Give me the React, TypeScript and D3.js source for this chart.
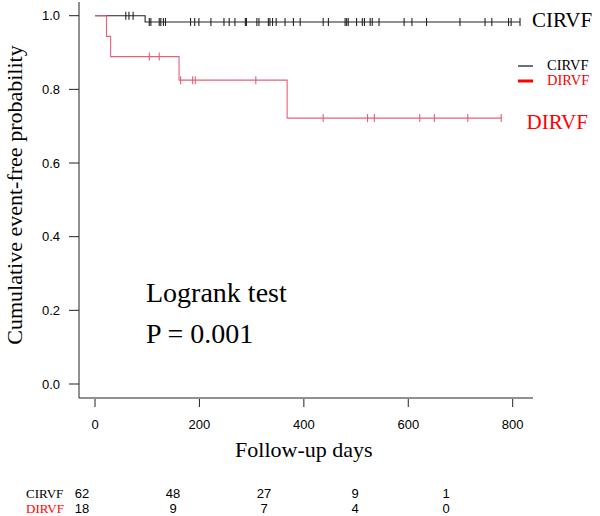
import React, { useRef, useEffect } from 'react';
import * as d3 from 'd3';

// Kaplan-Meier step values (day, survival) for each group
const cirvfSteps = [
  { t: 0, s: 1.0 },
  { t: 96, s: 0.983 },
];
const cirvfEnd = 814;
const cirvfCensored = [
  59, 65, 73, 104, 107, 123, 126, 131, 135, 183, 191, 199, 222, 247, 257, 268,
  288, 290, 310, 314, 332, 335, 340, 347, 364, 380, 393, 437, 447, 479, 482,
  485, 501, 512, 516, 527, 531, 544, 592, 607, 635, 699, 747, 760, 792, 797, 814,
];

const dirvfSteps = [
  { t: 0, s: 1.0 },
  { t: 22, s: 0.944 },
  { t: 30, s: 0.889 },
  { t: 161, s: 0.825 },
  { t: 368, s: 0.722 },
];
const dirvfEnd = 778;
const dirvfCensored = [104, 123, 164, 187, 192, 308, 437, 522, 535, 622, 650, 714, 778];

const xTicks = [0, 200, 400, 600, 800];
const yTicks = [0, 0.2, 0.4, 0.6, 0.8, 1.0];

// number at risk table
const riskDays = [0, 200, 400, 600, 800];
const cirvfAtRisk = [62, 48, 27, 9, 1];
const dirvfAtRisk = [18, 9, 7, 4, 0];

const SERIF = '"Liberation Serif", "Times New Roman", serif';
const SANS = '"Liberation Sans", Arial, sans-serif';
const RED_LINE = '#e4607a';

const KMChart = () => {
  const svgRef = useRef(null);

  useEffect(() => {
    const width = 600;
    const height = 516;

    const svg = d3.select(svgRef.current)
      .attr('width', width)
      .attr('height', height);

    svg.selectAll('*').remove();

    const x = d3.scaleLinear().domain([0, 800]).range([95, 512.7]);
    const y = d3.scaleLinear().domain([0, 1]).range([384, 15.7]);

    const plotLeft = 79;
    const plotRight = 533;
    const plotTop = 2;
    const plotBottom = 398;

    // L-shaped box
    svg.append('path')
      .attr('d', `M${plotLeft},${plotTop}V${plotBottom}H${plotRight}`)
      .attr('fill', 'none')
      .attr('stroke', '#222')
      .attr('stroke-width', 1);

    // y axis ticks + labels
    yTicks.forEach(v => {
      svg.append('line')
        .attr('x1', plotLeft - 10).attr('x2', plotLeft)
        .attr('y1', y(v)).attr('y2', y(v))
        .attr('stroke', '#222');
      svg.append('text')
        .attr('x', 60)
        .attr('y', y(v) + 4.7)
        .attr('text-anchor', 'end')
        .attr('font-family', SANS)
        .attr('font-size', 13)
        .text(v.toFixed(1));
    });

    // x axis ticks + labels
    xTicks.forEach(v => {
      svg.append('line')
        .attr('x1', x(v)).attr('x2', x(v))
        .attr('y1', plotBottom + 1).attr('y2', plotBottom + 9)
        .attr('stroke', '#222');
      svg.append('text')
        .attr('x', x(v))
        .attr('y', 429)
        .attr('text-anchor', 'middle')
        .attr('font-family', SANS)
        .attr('font-size', 13)
        .text(v);
    });

    // axis titles
    svg.append('text')
      .attr('x', (x(0) + x(800)) / 2)
      .attr('y', 457)
      .attr('text-anchor', 'middle')
      .attr('font-family', SERIF)
      .attr('font-size', 22)
      .text('Follow-up days');

    svg.append('text')
      .attr('transform', `translate(22, ${(plotTop + plotBottom) / 2 - 5}) rotate(-90)`)
      .attr('text-anchor', 'middle')
      .attr('font-family', SERIF)
      .attr('font-size', 22)
      .text('Cumulative event-free probability');

    const stepAt = (steps, t) => {
      let s = steps[0].s;
      steps.forEach(p => { if (p.t <= t) s = p.s; });
      return s;
    };

    const line = d3.line()
      .x(d => x(d.t))
      .y(d => y(d.s))
      .curve(d3.curveStepAfter);

    const drawCurve = (steps, end, censored, color) => {
      const pts = [...steps, { t: end, s: steps[steps.length - 1].s }];
      svg.append('path')
        .attr('d', line(pts))
        .attr('fill', 'none')
        .attr('stroke', color)
        .attr('stroke-width', 1.1);

      svg.append('g')
        .selectAll('line')
        .data(censored)
        .enter()
        .append('line')
        .attr('x1', d => x(d)).attr('x2', d => x(d))
        .attr('y1', d => y(stepAt(steps, d)) - 4)
        .attr('y2', d => y(stepAt(steps, d)) + 4)
        .attr('stroke', color)
        .attr('stroke-width', 1.1);
    };

    drawCurve(cirvfSteps, cirvfEnd, cirvfCensored, '#222');
    drawCurve(dirvfSteps, dirvfEnd, dirvfCensored, RED_LINE);

    // curve end labels
    svg.append('text')
      .attr('x', 532).attr('y', 27)
      .attr('font-family', SERIF).attr('font-size', 21)
      .attr('fill', '#000')
      .text('CIRVF');
    svg.append('text')
      .attr('x', 526.5).attr('y', 128.5)
      .attr('font-family', SERIF).attr('font-size', 21)
      .attr('fill', '#ff0000')
      .text('DIRVF');

    // legend
    const legend = [
      { name: 'CIRVF', color: '#000', stroke: '#222', w: 1.3, y: 66 },
      { name: 'DIRVF', color: '#ff0000', stroke: '#ff0000', w: 3, y: 81 },
    ];
    legend.forEach(l => {
      svg.append('line')
        .attr('x1', 518).attr('x2', 533)
        .attr('y1', l.y).attr('y2', l.y)
        .attr('stroke', l.stroke)
        .attr('stroke-width', l.w);
      svg.append('text')
        .attr('x', 547).attr('y', l.y + 4)
        .attr('font-family', SERIF).attr('font-size', 14.5)
        .attr('fill', l.color)
        .text(l.name);
    });

    // logrank annotation
    svg.append('text')
      .attr('x', 146).attr('y', 302)
      .attr('font-family', SERIF).attr('font-size', 28)
      .text('Logrank test');
    svg.append('text')
      .attr('x', 146).attr('y', 343)
      .attr('font-family', SERIF).attr('font-size', 28)
      .text('P = 0.001');

    // number at risk
    const riskX = d3.scaleLinear().domain([0, 800]).range([82, 446]);
    const rows = [
      { name: 'CIRVF', color: '#000', values: cirvfAtRisk, y: 498 },
      { name: 'DIRVF', color: '#ff0000', values: dirvfAtRisk, y: 513 },
    ];
    rows.forEach(r => {
      svg.append('text')
        .attr('x', 26).attr('y', r.y)
        .attr('font-family', SERIF).attr('font-size', 13)
        .attr('fill', r.color)
        .text(r.name);
      svg.append('g')
        .selectAll('text')
        .data(r.values)
        .enter()
        .append('text')
        .attr('x', (d, i) => riskX(riskDays[i]))
        .attr('y', r.y)
        .attr('text-anchor', 'middle')
        .attr('font-family', SANS).attr('font-size', 13)
        .attr('fill', '#000')
        .text(d => d);
    });
  }, []);

  return <svg ref={svgRef} style={{ position: 'absolute', left: 0, top: 0 }}></svg>;
};

export default function App() {
  return <KMChart />;
}
